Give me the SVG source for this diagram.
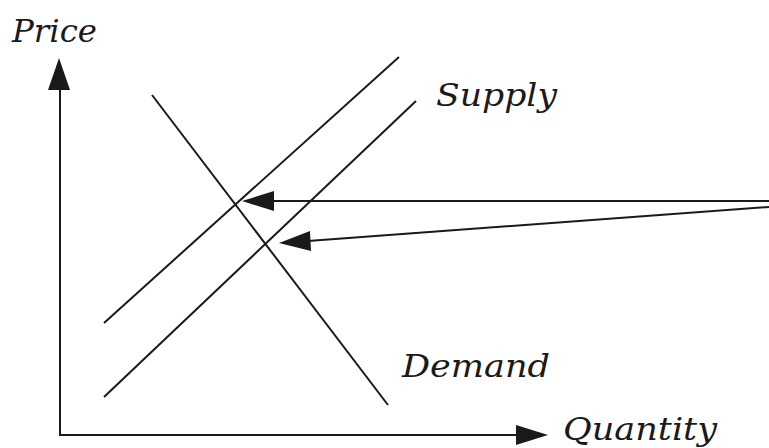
<svg xmlns="http://www.w3.org/2000/svg" width="769" height="448" viewBox="0 0 769 448">
<style>
.l{stroke:#1a1a1a;stroke-width:2;fill:none}
.h{fill:#1a1a1a}
.t{font-family:"DejaVu Serif","Liberation Serif",serif;font-style:italic;font-size:32px;fill:#1a1a1a}
</style>
<rect width="769" height="448" fill="#fff"/>
<g id="axes">
<line class="l" x1="60" y1="436" x2="60" y2="86"/>
<polygon class="h" points="59,58 48,90 70,90"/>
<line class="l" x1="59" y1="435" x2="520" y2="435"/>
<polygon class="h" points="548,435 516,425 516,445"/>
</g>
<g id="demand">
<line class="l" x1="152" y1="95" x2="388" y2="405"/>
<text class="t" x="402" y="377" textLength="148" lengthAdjust="spacingAndGlyphs">Demand</text>
</g>
<g id="supply1">
<line class="l" x1="104" y1="323" x2="399" y2="57"/>
</g>
<g id="supply2">
<line class="l" x1="104" y1="397" x2="416" y2="101"/>
<text class="t" x="436" y="106" textLength="121" lengthAdjust="spacingAndGlyphs">Supply</text>
</g>
<g id="labels">
<text class="t" x="12" y="42" textLength="85" lengthAdjust="spacingAndGlyphs">Price</text>
<text class="t" x="563" y="440" textLength="154" lengthAdjust="spacingAndGlyphs">Quantity</text>
</g>
<g id="connectors">
<line class="l" x1="769" y1="201" x2="270" y2="201"/>
<polygon class="h" points="242,201 274,191 274,211"/>
<line class="l" x1="769" y1="207" x2="308" y2="241"/>
<polygon class="h" points="279,243 310,231 311,251"/>
</g>
</svg>
